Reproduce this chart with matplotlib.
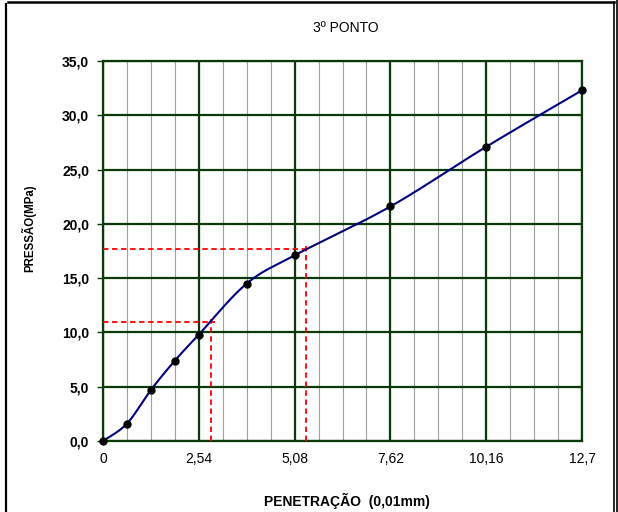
import numpy as np
import matplotlib
matplotlib.use("Agg")
import matplotlib.pyplot as plt
from matplotlib.lines import Line2D

plt.rcParams['font.family'] = ['Liberation Sans', 'DejaVu Sans']

# Data
penetracao = [0, 0.635, 1.27, 1.905, 2.54, 3.81, 5.08, 7.62, 10.16, 12.7]
pressao = [0.0, 1.6, 4.7, 7.4, 9.8, 14.5, 17.1, 21.6, 27.1, 32.3]
ref_x = [2.86, 5.37]
ref_y = [10.95, 17.7]
x_ticks = [0, 2.54, 5.08, 7.62, 10.16, 12.7]
x_ticklabels = ['0', '2,54', '5,08', '7,62', '10,16', '12,7']
y_ticks = [0, 5, 10, 15, 20, 25, 30, 35]
y_ticklabels = ['0,0', '5,0', '10,0', '15,0', '20,0', '25,0', '30,0', '35,0']
x_minor = [i * 0.635 for i in range(21)]


def smooth(xs, ys, n=30):
    pts = np.column_stack([xs, ys]).astype(float)
    out = [pts[0]]
    N = len(pts)
    for i in range(N - 1):
        p0 = pts[i - 1] if i > 0 else pts[i]
        p1 = pts[i]
        p2 = pts[i + 1]
        p3 = pts[i + 2] if i + 2 < N else pts[i + 1]
        c1 = p1 + (p2 - p0) / 6.0
        c2 = p2 - (p3 - p1) / 6.0
        t = np.linspace(0, 1, n)[1:, None]
        seg = ((1 - t) ** 3) * p1 + 3 * ((1 - t) ** 2) * t * c1 + 3 * (1 - t) * t ** 2 * c2 + t ** 3 * p2
        out.extend(seg)
    out = np.array(out)
    return out[:, 0], out[:, 1]


fig = plt.figure(figsize=(6.18, 5.12), dpi=100)
ax = fig.add_axes([103 / 618, 1 - 441 / 512, 479 / 618, 380 / 512])

green = '#0a3a0a'
ax.set_xlim(0, 12.7)
ax.set_ylim(0, 35)

for xv in x_minor:
    ax.axvline(xv, color='#a0a0a0', lw=0.8, zorder=1)
for xv in x_ticks:
    ax.axvline(xv, color=green, lw=1.6, zorder=2)
for yv in y_ticks:
    ax.axhline(yv, color=green, lw=1.6, zorder=2)

for s in ax.spines.values():
    s.set_color(green)
    s.set_linewidth(1.6)

# reference dashed lines
for rx, ry in zip(ref_x, ref_y):
    ax.plot([0, rx + 0.12], [ry, ry], color='#ff0000', lw=1.3, ls=(0, (3, 2)), zorder=3, clip_on=False)
    ax.plot([rx, rx], [0, ry + 0.3], color='#ff0000', lw=1.3, ls=(0, (3, 2)), zorder=3)

sx, sy = smooth(penetracao, pressao)
ax.plot(sx, sy, color='#000080', lw=1.5, zorder=4, clip_on=False)
ax.plot(penetracao, pressao, 'o', color='black', ms=5, zorder=5, clip_on=False)

ax.set_xticks(x_ticks)
ax.set_xticklabels(x_ticklabels, fontsize=10)
ax.set_yticks(y_ticks)
ax.set_yticklabels(y_ticklabels, fontsize=10, fontweight='bold')
ax.tick_params(axis='x', length=0, pad=8)
ax.tick_params(axis='y', length=4, color=green, width=1, pad=6)

fig.text(0.5 * (103 + 582) / 618 + 0.005, 1 - 28 / 512, '3º PONTO', ha='center', va='center', fontsize=10)
fig.text(347 / 618, 1 - 501 / 512, 'PENETRAÇÃO  (0,01mm)', ha='center', va='center', fontsize=10, fontweight='bold')
fig.text(29 / 618, 1 - 228 / 512, 'PRESSÃO(MPa)', ha='center', va='center', rotation=90, fontsize=8.3, fontweight='bold')

# outer border
fig.add_artist(Line2D([8 / 618, 614 / 618], [1 - 2 / 512, 1 - 2 / 512], color='black', lw=1.8, transform=fig.transFigure))
fig.add_artist(Line2D([6 / 618, 6 / 618], [0, 1 - 4 / 512], color='black', lw=1.6, transform=fig.transFigure))
fig.add_artist(Line2D([613.5 / 618, 613.5 / 618], [0, 1 - 2 / 512], color='black', lw=1.2, transform=fig.transFigure))
fig.add_artist(Line2D([616.5 / 618, 616.5 / 618], [0, 1], color='black', lw=1.2, transform=fig.transFigure))

fig.savefig('out.png', dpi=100)
